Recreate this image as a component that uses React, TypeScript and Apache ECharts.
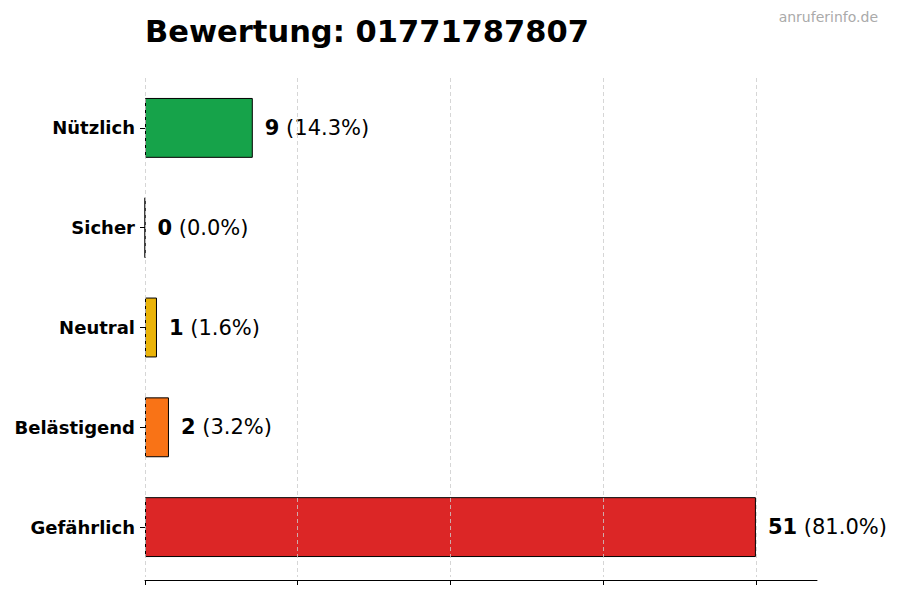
import { useEffect, useRef } from 'react';
import * as echarts from 'echarts';

// categories top to bottom
const categories = ['Nützlich', 'Sicher', 'Neutral', 'Belästigend', 'Gefährlich'];
const counts = [9, 0, 1, 2, 51];
const barColors = ['#16a34a', '#15803d', '#eab308', '#f97316', '#dc2626'];
const gridTicks = [0, 12.75, 25.5, 38.25, 51];
const axisMax = 56.1;

const total = counts.reduce((a, b) => a + b, 0);

export default function App() {
  const chartRef = useRef<HTMLDivElement>(null);

  useEffect(() => {
    document.body.style.margin = '0';
    if (!chartRef.current) return;
    const chart = echarts.init(chartRef.current, null, { renderer: 'svg' });

    chart.setOption({
      animation: false,
      backgroundColor: '#fff',
      textStyle: { fontFamily: 'DejaVu Sans' },
      title: {
        text: 'Bewertung: 01771787807',
        left: 140,
        top: 11,
        textStyle: { fontSize: 30.5, fontWeight: 'bold', color: '#000', fontFamily: 'DejaVu Sans' },
      },
      graphic: [{
        type: 'text',
        right: 22,
        top: 10,
        style: { text: 'anruferinfo.de', fill: '#aaaaaa', fontSize: 14, fontFamily: 'DejaVu Sans' },
      }],
      grid: { left: 145, right: 83, top: 78, height: 499 },
      xAxis: {
        type: 'value',
        min: 0,
        max: axisMax,
        interval: 12.75,
        offset: 3,
        z: 3,
        axisLine: { show: true, lineStyle: { color: '#000', width: 1 } },
        axisTick: { show: true, length: 5, lineStyle: { color: '#000' }, customValues: gridTicks },
        axisLabel: { show: false, customValues: gridTicks },
        splitLine: { show: true, lineStyle: { color: '#cccccc', type: [4, 3], width: 0.8 } },
      },
      yAxis: {
        type: 'category',
        inverse: true,
        data: categories,
        axisLine: { show: false },
        axisTick: { show: true, alignWithLabel: true, length: 5, lineStyle: { color: '#000' } },
        axisLabel: { fontSize: 18, fontWeight: 'bold', color: '#000', margin: 10 },
        splitLine: { show: false },
      },
      series: [{
        type: 'bar',
        barWidth: '60%',
        data: counts.map((v, i) => ({
          value: v,
          itemStyle: { color: barColors[i], borderColor: '#000', borderWidth: 1 },
        })),
        label: {
          show: true,
          position: 'right',
          distance: 12,
          formatter: (p: any) => `{b|${p.value}}{n| (${((p.value / total) * 100).toFixed(1)}%)}`,
          rich: {
            b: { fontSize: 21, fontWeight: 'bold', color: '#000', fontFamily: 'DejaVu Sans' },
            n: { fontSize: 21, color: '#000', fontFamily: 'DejaVu Sans' },
          },
        },
      }],
    });

    return () => chart.dispose();
  }, []);

  return <div ref={chartRef} style={{ width: 900, height: 600 }} />;
}
